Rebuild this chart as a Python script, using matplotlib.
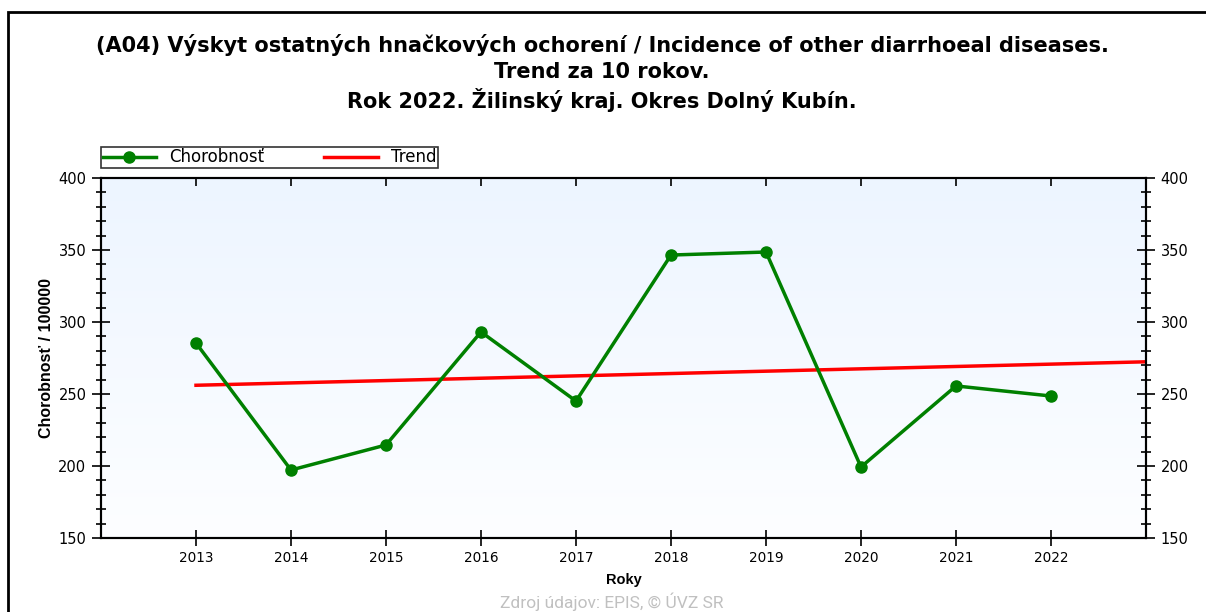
import numpy as np
import matplotlib
matplotlib.use("Agg")
import matplotlib.pyplot as plt
from matplotlib.patches import Rectangle
from matplotlib.ticker import MultipleLocator
from matplotlib.colors import LinearSegmentedColormap

plt.rcParams['font.family'] = ['Liberation Sans', 'DejaVu Sans']

years = [2013, 2014, 2015, 2016, 2017, 2018, 2019, 2020, 2021, 2022]
values = [285.4, 197.2, 214.6, 293.1, 245.1, 346.5, 348.6, 199.3, 255.6, 248.6]
title_lines = ["(A04) Výskyt ostatných hnačkových ochorení / Incidence of other diarrhoeal diseases.",
               "Trend za 10 rokov.",
               "Rok 2022. Žilinský kraj. Okres Dolný Kubín."]

W, H = 1206, 612
fig = plt.figure(figsize=(W / 100, H / 100), dpi=100)
fig.patch.set_facecolor('white')

# outer frame
fig.patches.append(Rectangle((8 / W, -0.5), 2.0, 1 - 12 / H + 0.5, transform=fig.transFigure,
                             fill=False, edgecolor='black', linewidth=2, zorder=0))

ax = fig.add_axes([101 / W, 1 - 538 / H, 1045 / W, 360 / H])
ax.set_xlim(2012, 2023)
ax.set_ylim(150, 400)

# gradient background
grad = np.linspace(0, 1, 256).reshape(-1, 1)
cmap = LinearSegmentedColormap.from_list('bg', ['#FDFEFF', '#EDF5FF'])
ax.imshow(grad, extent=[2012, 2023, 150, 400], origin='lower', aspect='auto', cmap=cmap, zorder=0)

# trend
coef = np.polyfit(years, values, 1)
tx = np.array([years[0], 2023])
ax.plot(tx, np.polyval(coef, tx), color='#FF0000', linewidth=2.5, zorder=2, label='Trend')
ax.plot(years, values, color='#008000', linewidth=2.5, marker='o', markersize=8, zorder=3,
        label='Chorobnosť')

tickfont = 'DejaVu Sans'
ax.set_xticks(years)
ax.set_xticklabels([str(y) for y in years], family=tickfont)
ax.yaxis.set_major_locator(MultipleLocator(50))
ax.yaxis.set_minor_locator(MultipleLocator(10))

ax.tick_params(axis='x', which='major', direction='inout', length=12, width=1.2,
               labelsize=9.8, pad=3, top=False)
ax.tick_params(axis='y', which='major', direction='inout', length=13, width=1.2,
               labelsize=10.5, right=True, labelright=True, pad=4)
ax.tick_params(axis='y', which='minor', direction='inout', length=7, width=1.2, right=True)
for t in ax.yaxis.get_major_ticks():
    t.label1.set_family(tickfont)
    t.label2.set_family(tickfont)

# top ticks pointing inward only
axt = ax.twiny()
axt.set_xlim(ax.get_xlim())
axt.set_xticks(years)
axt.tick_params(axis='x', direction='in', length=6, width=1.2, labeltop=False)

for s in ax.spines.values():
    s.set_linewidth(1.5)
for s in axt.spines.values():
    s.set_linewidth(1.5)

ax.set_xlabel('Roky', fontsize=10.5, fontweight='bold', labelpad=6)
ax.set_ylabel('Chorobnosť / 100000', fontsize=11.5, fontweight='bold', labelpad=3)

h, l = ax.get_legend_handles_labels()
leg = axt.legend(h[::-1], l[::-1], loc='lower left',
                 bbox_to_anchor=(0, 1 + 10 / 360, 337 / 1045, 22 / 360), mode='expand', ncol=2,
                 frameon=True, fancybox=False, borderaxespad=0,
                 prop={'family': 'DejaVu Sans', 'size': 12},
                 handlelength=3.2, columnspacing=2.0, borderpad=0.1, handletextpad=0.8)
leg.get_frame().set_edgecolor('black')
leg.get_frame().set_linewidth(1.2)

ys = [45, 72, 100]
for line, y in zip(title_lines, ys):
    fig.text(602 / W, 1 - y / H, line, ha='center', va='center', fontsize=15,
             fontweight='bold', family='DejaVu Sans')

fig.text(612 / W, 1 - 602 / H, 'Zdroj údajov: EPIS, © ÚVZ SR', ha='center', va='center',
         fontsize=12.5, color='#C0C0C0', family='Roboto')

fig.savefig('out.png', dpi=100)
